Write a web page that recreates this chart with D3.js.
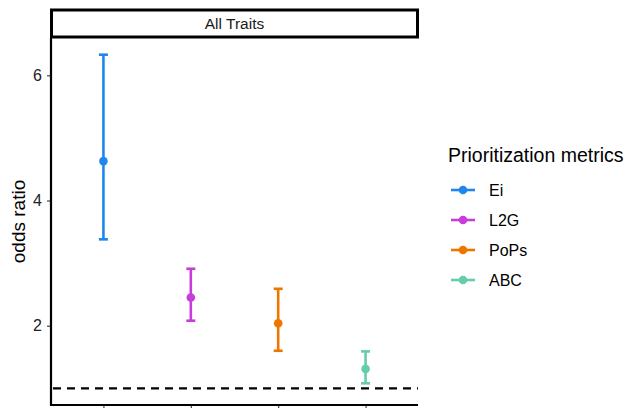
<!DOCTYPE html>
<html>
<head>
<meta charset="utf-8">
<script src="https://cdn.jsdelivr.net/npm/d3@7"></script>
<style>
  html, body { margin: 0; padding: 0; background: #fff; }
  svg { display: block; font-family: "Liberation Sans", Arial, Helvetica, sans-serif; }
</style>
</head>
<body>
<svg id="chart" width="627" height="408"></svg>
<script>
// Odds ratios with confidence intervals for each prioritization metric
const metrics = ["Ei", "L2G", "PoPs", "ABC"];
const oddsRatio = [4.63, 2.45, 2.04, 1.31];
const lowerCI = [3.38, 2.08, 1.60, 1.08];
const upperCI = [6.33, 2.91, 2.59, 1.59];
const colors = ["#1F87EC", "#C93CDC", "#EE7600", "#66CDAA"];
const yTicks = [2, 4, 6];
const referenceLine = 1;
const facetLabel = "All Traits";
const legendTitle = "Prioritization metrics";
const yTitle = "odds ratio";

const svg = d3.select("#chart");
const panel = { left: 51, right: 418, top: 38, bottom: 405 };

// Discrete x positions with ggplot-style 0.6 unit padding
const x = d3.scalePoint().domain(metrics).range([panel.left, panel.right]).padding(0.6);

// Continuous y range covers data plus reference line, expanded 5%
const yMin = Math.min(referenceLine, d3.min(lowerCI));
const yMax = d3.max(upperCI);
const pad = (yMax - yMin) * 0.05;
const y = d3.scaleLinear().domain([yMin - pad, yMax + pad]).range([panel.bottom, panel.top]);

// Facet strip
svg.append("rect")
  .attr("x", panel.left + 0.5).attr("y", 10)
  .attr("width", panel.right - panel.left - 1).attr("height", 27)
  .attr("fill", "#fff").attr("stroke", "#000").attr("stroke-width", 3);
svg.append("text")
  .attr("x", (panel.left + panel.right) / 2).attr("y", 29)
  .attr("text-anchor", "middle").attr("font-size", 15.5).attr("fill", "#1a1a1a")
  .text(facetLabel);

// Reference line at odds ratio 1
svg.append("line")
  .attr("x1", panel.left + 2).attr("x2", panel.right)
  .attr("y1", y(referenceLine)).attr("y2", y(referenceLine))
  .attr("stroke", "#000").attr("stroke-width", 2.2)
  .attr("stroke-dasharray", "8,6");

// Error bars and points
const g = svg.append("g");
metrics.forEach((m, i) => {
  const cx = x(m);
  const c = colors[i];
  g.append("line")
    .attr("x1", cx).attr("x2", cx)
    .attr("y1", y(lowerCI[i])).attr("y2", y(upperCI[i]))
    .attr("stroke", c).attr("stroke-width", 2.6);
  [lowerCI[i], upperCI[i]].forEach(v => {
    g.append("line")
      .attr("x1", cx - 4.5).attr("x2", cx + 4.5)
      .attr("y1", y(v)).attr("y2", y(v))
      .attr("stroke", c).attr("stroke-width", 2.6);
  });
  g.append("circle")
    .attr("cx", cx).attr("cy", y(oddsRatio[i])).attr("r", 4.3)
    .attr("fill", c);
});

// Y axis
const yAxis = svg.append("g")
  .attr("transform", `translate(${panel.left},0)`)
  .call(d3.axisLeft(y).tickValues(yTicks).tickSize(4).tickPadding(5).tickFormat(d3.format("d")));
yAxis.select(".domain").remove();
yAxis.selectAll(".tick line").attr("stroke", "#333").attr("stroke-width", 1.1);
yAxis.selectAll(".tick text").attr("font-size", 16).attr("fill", "#222")
  .attr("font-family", "Liberation Sans, Arial, sans-serif");
svg.append("line")
  .attr("x1", panel.left).attr("x2", panel.left)
  .attr("y1", panel.top).attr("y2", panel.bottom + 1)
  .attr("stroke", "#000").attr("stroke-width", 2.2);

// X axis (ticks only, no labels)
const xAxis = svg.append("g")
  .attr("transform", `translate(0,${panel.bottom})`)
  .call(d3.axisBottom(x).tickSize(5).tickFormat(""));
xAxis.select(".domain").remove();
xAxis.selectAll(".tick line").attr("stroke", "#333").attr("stroke-width", 1.1);
svg.append("line")
  .attr("x1", panel.left - 1).attr("x2", panel.right)
  .attr("y1", panel.bottom).attr("y2", panel.bottom)
  .attr("stroke", "#000").attr("stroke-width", 2.2);

// Y axis title
svg.append("text")
  .attr("transform", `translate(25,${(panel.top + panel.bottom) / 2}) rotate(-90)`)
  .attr("text-anchor", "middle").attr("font-size", 19).attr("fill", "#000")
  .text(yTitle);

// Legend
const legend = svg.append("g").attr("transform", "translate(448,0)");
legend.append("text")
  .attr("x", 0).attr("y", 162)
  .attr("font-size", 19.5).attr("fill", "#000")
  .text(legendTitle);
metrics.forEach((m, i) => {
  const ly = 190 + i * 30;
  legend.append("line")
    .attr("x1", 3).attr("x2", 27).attr("y1", ly).attr("y2", ly)
    .attr("stroke", colors[i]).attr("stroke-width", 2.6);
  legend.append("circle")
    .attr("cx", 15).attr("cy", ly).attr("r", 4.3).attr("fill", colors[i]);
  legend.append("text")
    .attr("x", 41).attr("y", ly + 6)
    .attr("font-size", 16).attr("fill", "#000")
    .text(m);
});
</script>
</body>
</html>
